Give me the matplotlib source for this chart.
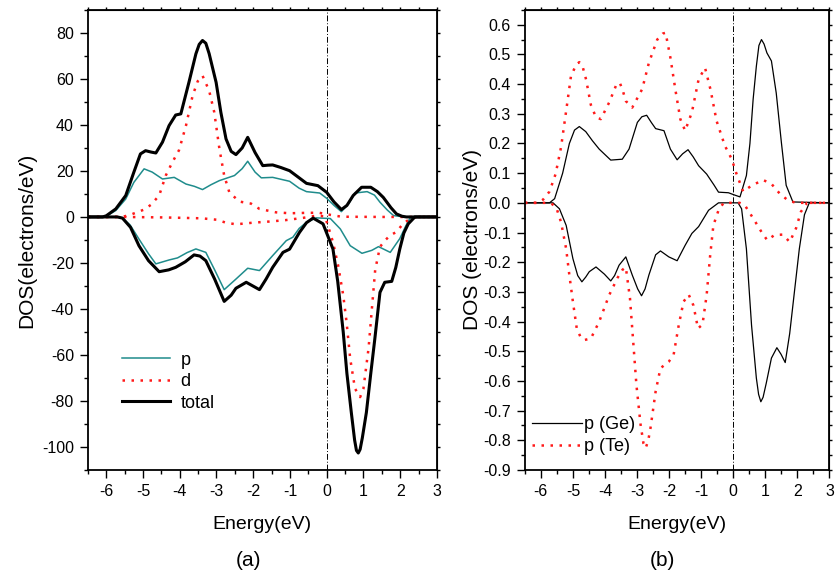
import matplotlib
matplotlib.use("Agg")
import matplotlib.pyplot as plt
from matplotlib.ticker import MultipleLocator, FormatStrFormatter

plt.rcParams["font.family"] = ["Liberation Sans", "DejaVu Sans"]
plt.rcParams["axes.unicode_minus"] = False

# ---- panel (a): DOS, spin up positive / spin down negative ----
total_up_e = [-6.5, -6.1, -6.0, -5.74, -5.47, -5.25, -5.07, -4.93, -4.78, -4.65, -4.47, -4.29, -4.11,
              -3.97, -3.75, -3.56, -3.47, -3.38, -3.29, -3.2, -3.01, -2.88, -2.74, -2.6, -2.47, -2.3,
              -2.15, -1.95, -1.74, -1.6, -1.47, -1.25, -1.01, -0.75, -0.55, -0.24, 0.0, 0.2, 0.4,
              0.55, 0.72, 0.95, 1.2, 1.38, 1.54, 1.75, 1.9, 2.05, 2.17, 2.4, 3.0]
total_up = [0, 0, 0.5, 3.5, 9.3, 19.4, 27.4, 28.8, 28.2, 27.8, 32.5, 39.7, 44.3,
            44.8, 58.5, 70.9, 75, 76.7, 75.5, 71, 58.5, 45.4, 33.9, 28.5, 27.1, 30,
            34.6, 28, 22.3, 22.5, 22.6, 21.5, 20.1, 17, 14.6, 13.6, 10.7, 6.5, 3.2,
            5, 9.3, 12.9, 12.9, 11, 8.5, 4, 1.3, 0.3, 0, 0, 0]

total_dn_e = [-6.5, -5.7, -5.56, -5.34, -5.11, -4.85, -4.56, -4.3, -4.11, -3.85, -3.61, -3.45, -3.29,
              -3.05, -2.79, -2.6, -2.47, -2.19, -1.83, -1.65, -1.47, -1.19, -1.01, -0.74, -0.55,
              -0.37, -0.1, 0.17, 0.3, 0.45, 0.55, 0.67, 0.76, 0.81, 0.86, 0.91, 0.97, 1.08, 1.2,
              1.31, 1.45, 1.58, 1.77, 1.88, 1.99, 2.1, 2.22, 2.4, 3.0]
total_dn = [0, 0, -0.5, -4.5, -12.5, -19, -23.8, -23, -21.9, -19.5, -16.5, -17, -19,
            -27, -36.7, -34, -31, -28.4, -31.6, -27, -21.9, -15.4, -14, -6.7, -2.5,
            -0.5, -3, -13.9, -28, -50, -68, -85, -97, -101.5, -102.6, -101, -96, -85, -68,
            -53, -32.8, -28.4, -28, -22, -13.9, -7, -3, 0, 0]

p_up_e = [-6.5, -6.1, -6.0, -5.74, -5.47, -5.25, -4.97, -4.75, -4.47, -4.15, -3.83, -3.6, -3.38,
          -3.15, -2.92, -2.51, -2.3, -2.15, -1.95, -1.78, -1.47, -1.01, -0.75, -0.55, -0.19, 0.0,
          0.2, 0.4, 0.6, 0.77, 1.1, 1.3, 1.45, 1.65, 1.82, 2.1, 3.0]
p_up = [0, 0, 0.3, 2.8, 7.8, 15, 20.9, 19.5, 16.5, 17.2, 14.3, 13.3, 11.9,
        14, 15.8, 18, 21, 24.2, 19.5, 17, 17.2, 15.5, 12.5, 11, 10.4, 8.1,
        5, 2.3, 5.8, 10.4, 11, 9.5, 6.4, 3, 0.6, 0, 0]

p_dn_e = [-6.5, -5.7, -5.56, -5.35, -5.11, -4.85, -4.65, -4.29, -4.06, -3.8, -3.56, -3.29, -3.05,
          -2.79, -2.47, -2.15, -1.83, -1.47, -1.1, -0.92, -0.75, -0.55, -0.28, 0.1, 0.37, 0.64,
          0.96, 1.23, 1.41, 1.73, 1.99, 2.15, 2.26, 2.4, 3.0]
p_dn = [0, 0, -0.4, -3.5, -9.6, -16, -20.4, -18.7, -17.8, -15.5, -13.9, -15.4, -23,
        -31.6, -27, -22.3, -23.3, -16.8, -10.3, -8.8, -5, -2.3, -0.4, -0.7, -5.2, -12.5,
        -15.8, -14.5, -12.9, -15.4, -9.4, -4, -0.7, 0, 0]

d_up_e = [-6.5, -5.56, -5.3, -4.97, -4.79, -4.56, -4.38, -4.2, -4.02, -3.83, -3.65, -3.51, -3.38,
          -3.2, -3.06, -2.92, -2.79, -2.65, -2.38, -2.06, -1.83, -1.38, -1.0, -0.5, -0.2, 0.1,
          0.4, 1.5, 3.0]
d_up = [0, 0, 1.2, 3.2, 5.2, 9.3, 18, 23.8, 29, 39.7, 52.7, 59, 61.4,
        54.9, 45.5, 29.6, 18, 10.7, 6.7, 5.8, 3.5, 2.0, 1.6, 1.8, 1.8, 0.9,
        0.1, 0, 0]

d_dn_e = [-6.5, -5.56, -4.5, -3.9, -3.4, -3.0, -2.74, -2.47, -2.01, -1.56, -1.13, -0.64, -0.3,
          -0.05, 0.03, 0.17, 0.31, 0.45, 0.54, 0.64, 0.77, 0.91, 1.0, 1.14, 1.23, 1.32, 1.45,
          1.6, 1.73, 1.9, 2.08, 2.31, 2.5, 3.0]
d_dn = [0, 0, -0.2, -0.4, -0.6, -1.2, -2.5, -3.2, -2.5, -2.0, -1.4, -0.4, 0.5,
        0.3, -3.6, -10.9, -21, -34, -45.6, -61.6, -74.6, -78.3, -74.6, -57, -39.9, -23, -13,
        -10, -8, -6.5, -2.9, -0.4, 0, 0]

# ---- panel (b): p states of Ge and Te ----
ge_up_e = [-6.5, -5.73, -5.57, -5.32, -5.11, -4.95, -4.80, -4.6, -4.39, -4.18, -3.82, -3.46, -3.25,
           -2.99, -2.85, -2.70, -2.55, -2.42, -2.16, -1.96, -1.75, -1.58, -1.41, -1.25, -1.08,
           -0.83, -0.6, -0.46, -0.15, 0.05, 0.21, 0.41, 0.52, 0.62, 0.72, 0.8, 0.88, 0.96, 1.05,
           1.19, 1.34, 1.5, 1.65, 1.86, 3.0]
ge_up = [0, 0, 0.014, 0.10, 0.20, 0.245, 0.257, 0.24, 0.209, 0.181, 0.144, 0.147, 0.181,
         0.271, 0.29, 0.295, 0.27, 0.25, 0.243, 0.181, 0.145, 0.165, 0.179, 0.155, 0.125,
         0.097, 0.06, 0.036, 0.034, 0.026, 0.02, 0.092, 0.2, 0.349, 0.46, 0.53, 0.55, 0.535, 0.505,
         0.478, 0.37, 0.204, 0.059, 0.003, 0]

te_up_e = [-6.5, -6.1, -5.93, -5.73, -5.54, -5.37, -5.21, -5.06, -4.9, -4.80, -4.7, -4.59, -4.44,
           -4.28, -4.13, -3.87, -3.66, -3.54, -3.45, -3.35, -3.15, -2.84, -2.63, -2.37, -2.2,
           -2.11, -1.96, -1.80, -1.65, -1.50, -1.29, -1.08, -0.88, -0.71, -0.52, -0.26, -0.05,
           0.10, 0.31, 0.57, 0.93, 1.19, 1.45, 1.70, 1.95, 3.0]
te_up = [0, 0, 0.011, 0.038, 0.097, 0.187, 0.31, 0.427, 0.465, 0.474, 0.46, 0.416, 0.33,
         0.288, 0.282, 0.338, 0.394, 0.405, 0.38, 0.343, 0.321, 0.383, 0.472, 0.55, 0.57,
         0.573, 0.489, 0.378, 0.282, 0.243, 0.305, 0.416, 0.455, 0.382, 0.276, 0.192, 0.148,
         0.098, 0.038, 0.058, 0.077, 0.064, 0.031, 0.009, 0, 0]

ge_dn_e = [-6.5, -5.62, -5.42, -5.21, -5.0, -4.85, -4.72, -4.6, -4.49, -4.28, -4.02, -3.82, -3.7,
           -3.56, -3.35, -3.15, -2.98, -2.86, -2.75, -2.63, -2.42, -2.27, -2.01, -1.75, -1.50,
           -1.29, -1.08, -0.77, -0.46, 0.15, 0.26, 0.41, 0.57, 0.72, 0.79, 0.86, 0.93, 1.03, 1.19,
           1.36, 1.49, 1.62, 1.76, 1.91, 2.06, 2.22, 2.37, 3.0]
ge_dn = [0, 0, -0.02, -0.076, -0.188, -0.245, -0.266, -0.25, -0.232, -0.216, -0.24, -0.263, -0.245,
         -0.21, -0.182, -0.243, -0.29, -0.313, -0.29, -0.243, -0.175, -0.162, -0.182, -0.195, -0.143,
         -0.103, -0.08, -0.025, 0, 0, -0.02, -0.155, -0.412, -0.59, -0.645, -0.67, -0.655, -0.607,
         -0.523, -0.488, -0.51, -0.538, -0.44, -0.297, -0.155, -0.04, 0, 0]

te_dn_e = [-6.5, -5.7, -5.52, -5.37, -5.21, -5.11, -5.0, -4.88, -4.75, -4.64, -4.44, -4.18, -3.87,
           -3.61, -3.45, -3.35, -3.22, -3.12, -3.02, -2.89, -2.8, -2.73, -2.65, -2.58, -2.42,
           -2.27, -2.01, -1.86, -1.70, -1.55, -1.39, -1.24, -1.10, -0.96, -0.83, -0.72, -0.62,
           -0.46, -0.3, 0.2, 0.36, 0.62, 0.88, 1.06, 1.29, 1.55, 1.76, 1.96, 2.11, 2.3, 3.0]
te_dn = [0, 0, -0.015, -0.065, -0.155, -0.244, -0.333, -0.423, -0.455, -0.462, -0.457, -0.4, -0.311,
         -0.253, -0.225, -0.217, -0.322, -0.467, -0.613, -0.747, -0.81, -0.826, -0.8, -0.758, -0.635,
         -0.557, -0.535, -0.512, -0.412, -0.333, -0.309, -0.346, -0.423, -0.41, -0.311, -0.177, -0.076,
         -0.025, 0, 0, -0.008, -0.052, -0.098, -0.126, -0.108, -0.107, -0.132, -0.085, -0.03, 0, 0]

teal = "#1f8c8c"
red = "#ff1a1a"
dots = (0, (1, 2.6))

fig = plt.figure(figsize=(8.37, 5.81), dpi=100)
ax1 = fig.add_axes([0.105, 0.191, 0.417, 0.792])
ax2 = fig.add_axes([0.627, 0.191, 0.364, 0.792])


def style_axis(ax, ymajor, yminor):
    ax.set_xlim(-6.5, 3)
    ax.xaxis.set_major_locator(MultipleLocator(1))
    ax.xaxis.set_minor_locator(MultipleLocator(0.5))
    ax.yaxis.set_major_locator(MultipleLocator(ymajor))
    ax.yaxis.set_minor_locator(MultipleLocator(yminor))
    ax.tick_params(which="major", direction="out", length=6, width=1.0, labelsize=11.5, pad=4)
    ax.tick_params(which="minor", direction="out", length=3, width=1.0)
    for s in ax.spines.values():
        s.set_linewidth(1.3)
    # small ticks on top and right
    top = ax.secondary_xaxis("top")
    top.xaxis.set_major_locator(MultipleLocator(0.5))
    top.tick_params(direction="out", length=2.5, width=1.0, labeltop=False)
    right = ax.secondary_yaxis("right")
    right.yaxis.set_major_locator(MultipleLocator(yminor))
    right.tick_params(direction="out", length=2.5, width=1.0, labelright=False)
    ax.axvline(0, color="black", lw=0.7, ls=(0, (6, 2, 1, 2)), zorder=1)
    ax.set_xlabel("Energy(eV)", fontsize=14, labelpad=12)


# panel (a)
ax1.plot(p_up_e, p_up, color=teal, lw=1.1, label="p")
ax1.plot(p_dn_e, p_dn, color=teal, lw=1.1)
ax1.plot(d_up_e, d_up, color=red, lw=1.8, ls=dots, label="d")
ax1.plot(d_dn_e, d_dn, color=red, lw=1.8, ls=dots)
ax1.plot(total_up_e, total_up, color="black", lw=2.2, label="total")
ax1.plot(total_dn_e, total_dn, color="black", lw=2.2)
ax1.set_ylim(-110, 90)
style_axis(ax1, 20, 10)
ax1.set_ylabel("DOS(electrons/eV)", fontsize=15, labelpad=4)
ax1.legend(loc="center left", bbox_to_anchor=(0.097, 0.192), frameon=False, fontsize=13,
           handlelength=2.7, handletextpad=0.55, labelspacing=0.25, borderpad=0, borderaxespad=0)

# panel (b)
ax2.plot(ge_up_e, ge_up, color="black", lw=0.9, label="p (Ge)")
ax2.plot(ge_dn_e, ge_dn, color="black", lw=0.9)
ax2.plot(te_up_e, te_up, color=red, lw=1.8, ls=dots, label="p (Te)")
ax2.plot(te_dn_e, te_dn, color=red, lw=1.8, ls=dots)
ax2.set_ylim(-0.9, 0.65)
style_axis(ax2, 0.1, 0.05)
ax2.yaxis.set_major_formatter(FormatStrFormatter("%.1f"))
ax2.set_ylabel("DOS (electrons/eV)", fontsize=15, labelpad=1)
ax2.legend(loc="center left", bbox_to_anchor=(0.023, 0.075), frameon=False, fontsize=13,
           handlelength=2.8, handletextpad=0.1, labelspacing=0.28, borderpad=0, borderaxespad=0)

fig.text(0.297, 0.036, "(a)", fontsize=15, ha="center", va="center")
fig.text(0.792, 0.036, "(b)", fontsize=15, ha="center", va="center")

fig.savefig("out.png", dpi=100)
